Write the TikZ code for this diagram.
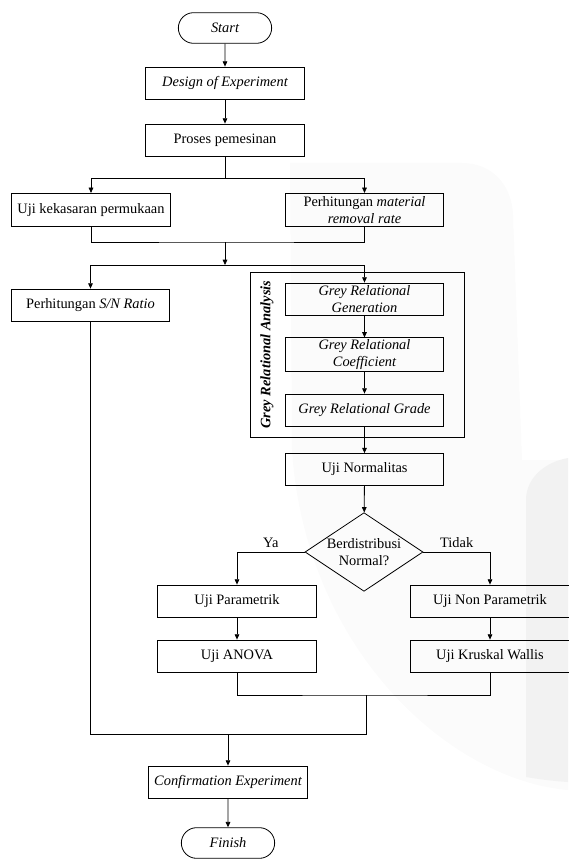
\documentclass[tikz,border=0pt]{standalone}
\usepackage{fontspec}
\setmainfont{Liberation Serif}
\usetikzlibrary{arrows.meta,shapes.geometric,shapes.misc}
\tikzset{box/.style={draw, line width=0.6pt, minimum width=119pt, minimum height=24pt, inner sep=1pt, align=center, font=\fontsize{10.8}{12.5}\selectfont}}
\tikzset{ibox/.style={box, font=\fontsize{10.8}{12.5}\selectfont\itshape}}
\tikzset{term/.style={ibox, rounded rectangle, minimum width=72pt, minimum height=23pt}}
\tikzset{decide/.style={box, diamond, aspect=1.5, minimum width=88.5pt, minimum height=59pt, inner sep=0pt}}
\tikzset{grabox/.style={draw, line width=0.7pt, minimum width=160.5pt, minimum height=123.75pt, inner sep=0pt}}
\tikzset{arr/.style={line width=0.6pt, -{Triangle[length=4pt, width=3.5pt]}}}
\tikzset{ln/.style={line width=0.6pt}}

\begin{document}
\begin{tikzpicture}[x=0.75pt, y=-0.75pt]
\useasboundingbox (0,0) rectangle (568,859);
% watermark
\fill[black!1.5] (290,163) -- (462,163) .. controls (492,163) and (512,185) .. (513,215) -- (522,460) -- (568,460) -- (568,790) .. controls (450,780) and (305,650) .. (292,450) -- cycle;
\fill[black!5] (526,500) .. controls (526,478) and (545,462) .. (568,458) -- (568,782) .. controls (552,781) and (538,779) .. (526,777) -- cycle;

\node[term] (start) at (225,28) {Start};
\node[ibox] (doe) at (225,83) {Design of Experiment};
\node[box] (proses) at (225,140) {Proses pemesinan};
\node[box, minimum height=25pt] (kasar) at (91,210) {Uji kekasaran permukaan};
\node[box, minimum height=25pt] (mrr) at (364.5,210) {Perhitungan \textit{material}\\\textit{removal rate}};
\node[box] (sn) at (90.5,305) {Perhitungan \textit{S/N Ratio}};

\node[grabox] (gra) at (357,354.5) {};
\node[rotate=90, font=\fontsize{10.8}{12.5}\selectfont\bfseries\itshape] (gralabel) at (267,354.5) {Grey Relational Analysis};
\node[ibox] (gen) at (364.5,299) {Grey Relational\\Generation};
\node[ibox, minimum height=25pt] (coef) at (364.5,354.5) {Grey Relational\\Coefficient};
\node[ibox] (grade) at (364.5,410) {Grey Relational Grade};

\node[box] (norm) at (364.5,469.5) {Uji Normalitas};
\node[decide] (dec) at (364,552) {Berdistribusi\\Normal?};
\node[box] (param) at (237,601) {Uji Parametrik};
\node[box] (nonpar) at (490,601) {Uji Non Parametrik};
\node[box] (anova) at (237,656) {Uji ANOVA};
\node[box] (kruskal) at (490,656) {Uji Kruskal Wallis};
\node[ibox] (conf) at (228,782) {Confirmation Experiment};
\node[term] (finish) at (228,843) {Finish};

\foreach \a/\b in {start/doe, doe/proses, gen/coef, coef/grade, grade/norm, norm/dec, param/anova, nonpar/kruskal, conf/finish}
  \draw[arr] (\a) -- (\b);

\coordinate (j1) at (225,178);
\coordinate (j2) at (225,242);
\coordinate (j3) at (225,265);
\draw[ln] (proses) -- (j1);
\draw[arr] (j1) -| (kasar);
\draw[arr] (j1) -| (mrr);
\draw[ln] (kasar) |- (j2) -| (mrr);
\draw[arr] (j2) -- (j3);
\draw[arr] (j3) -| (sn);
\draw[arr] (j3) -| (gen);

\draw[arr] (dec) -| node[pos=0.25, above, font=\fontsize{10.8}{12.5}\selectfont]{Ya} (param);
\draw[arr] (dec) -| node[pos=0.25, above, font=\fontsize{10.8}{12.5}\selectfont]{Tidak} (nonpar);

\coordinate (j4) at (366,695);
\coordinate (j5) at (366,734);
\coordinate (j6) at (228,734);
\draw[ln] (anova) |- (j4) -| (kruskal);
\draw[ln] (j4) -- (j5) -| (sn);
\draw[arr] (j6) -- (conf);
\end{tikzpicture}
\end{document}
